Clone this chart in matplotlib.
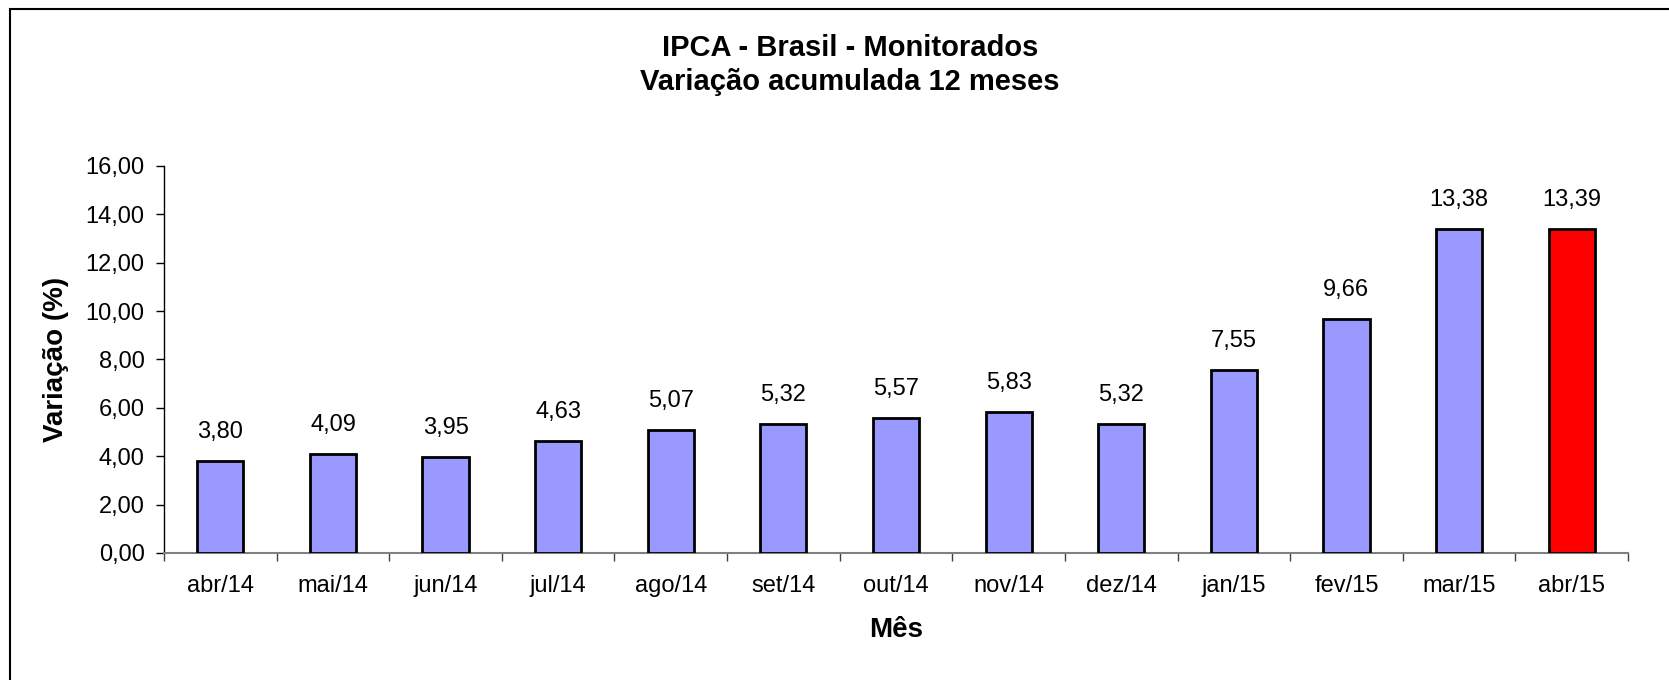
import numpy as np
import matplotlib.pyplot as plt
from matplotlib.patches import Rectangle

plt.rcParams['font.family'] = ['Liberation Sans', 'DejaVu Sans']

# Months and 12-month accumulated variation (%)
meses = ['abr/14', 'mai/14', 'jun/14', 'jul/14', 'ago/14', 'set/14', 'out/14',
         'nov/14', 'dez/14', 'jan/15', 'fev/15', 'mar/15', 'abr/15']
variacao = [3.80, 4.09, 3.95, 4.63, 5.07, 5.32, 5.57, 5.83, 5.32, 7.55, 9.66, 13.38, 13.39]
yticks = [0, 2, 4, 6, 8, 10, 12, 14, 16]

bar_colour = '#9999FF'
last_colour = '#FF0000'

fig = plt.figure(figsize=(16.69, 6.8), dpi=100)
ax = fig.add_axes([0.0983, 0.1868, 0.8771, 0.5691])

x = np.arange(len(meses))
colours = [bar_colour] * (len(meses) - 1) + [last_colour]
ax.bar(x, variacao, width=0.41, color=colours, edgecolor='black', linewidth=2, zorder=3)

for xi, v in zip(x, variacao):
    ax.annotate(f'{v:.2f}'.replace('.', ','), (xi, v), xytext=(0, 21),
                textcoords='offset points', ha='center', va='center', fontsize=17)

ax.set_xlim(-0.5, len(meses) - 0.5)
ax.set_ylim(0, 16)
ax.set_yticks(yticks)
ax.set_yticklabels([f'{t:.2f}'.replace('.', ',') for t in yticks], fontsize=17)
ax.set_xticks(x)
ax.set_xticklabels(meses, fontsize=17)
ax.set_xticks(np.arange(len(meses) + 1) - 0.5, minor=True)
ax.tick_params(axis='x', which='major', length=0, pad=16)
ax.tick_params(axis='x', which='minor', length=6, width=1, color='#404040', direction='out')
ax.tick_params(axis='y', length=6, width=1, direction='out', pad=8)

for spine in ('top', 'right'):
    ax.spines[spine].set_visible(False)
ax.spines['left'].set_linewidth(1)
ax.spines['bottom'].set_color('#808080')
ax.spines['bottom'].set_linewidth(1.5)

ax.set_xlabel('Mês', fontsize=20, fontweight='bold', labelpad=14)
ax.set_ylabel('Variação (%)', fontsize=20, fontweight='bold', labelpad=12)

fig.text(0.5093, 0.9044, 'IPCA - Brasil - Monitorados\nVariação acumulada 12 meses',
         ha='center', va='center', fontsize=21, fontweight='bold', linespacing=1.25)

# outer chart border (left and top visible)
fig.patches.append(Rectangle((10 / 1669, -0.1), 1.2, 0.1 + 1 - 9 / 680,
                             transform=fig.transFigure, fill=False,
                             edgecolor='black', linewidth=1.5))

fig.savefig('out.png', dpi=100)
